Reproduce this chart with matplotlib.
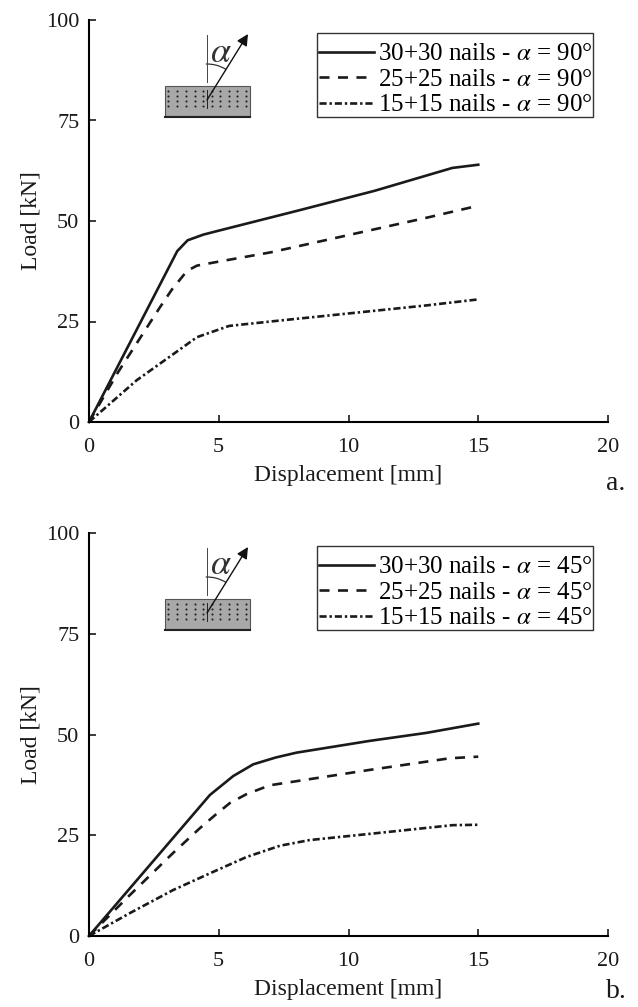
import matplotlib
matplotlib.use('Agg')
import matplotlib.pyplot as plt
from matplotlib.patches import Rectangle, Arc

plt.rcParams['font.family'] = ['Liberation Serif', 'DejaVu Serif']
plt.rcParams['mathtext.fontset'] = 'stix'

W, H = 638, 1007

labels = ['30+30 nails', '25+25 nails', '15+15 nails']
styles = ['-', (0, (3.8, 3.2)), (0, (2.7, 1.1, 0.9, 1.1))]

# panel a
xa_30 = [0, 3.4, 3.8, 4.4, 5, 8, 11, 14, 15]
ya_30 = [0, 42.5, 45.2, 46.6, 47.6, 52.5, 57.5, 63.2, 64]
xa_25 = [0, 1.12, 2.74, 3.2, 3.78, 4.16, 5, 7, 10, 13, 15]
ya_25 = [0, 12.4, 28.6, 33, 37.6, 38.9, 39.9, 42.2, 46.5, 50.8, 53.8]
xa_15 = [0, 1.84, 3.1, 4.16, 5.4, 7, 10, 13, 15]
ya_15 = [0, 10.4, 16.2, 21.1, 23.9, 25, 27, 29, 30.5]

# panel b
xb_30 = [0, 4.66, 5.56, 6.33, 7.2, 8, 10.8, 13, 15]
yb_30 = [0, 35, 39.7, 42.6, 44.3, 45.5, 48.4, 50.4, 52.7]
xb_25 = [0, 1.58, 3.24, 4.28, 4.86, 5.43, 6.07, 6.97, 10.8, 13.9, 15]
yb_25 = [0, 10.2, 20.6, 26.8, 30, 33, 35.2, 37.4, 41.2, 44.1, 44.5]
xb_15 = [0, 1.58, 3.24, 4.78, 6.07, 7.36, 8.5, 11.5, 14, 15]
yb_15 = [0, 5.7, 11.4, 15.9, 19.6, 22.4, 23.8, 25.8, 27.5, 27.6]

xticks = [0, 5, 10, 15, 20]
yticks = [0, 25, 50, 75, 100]


def fx(px):
    return px / W


def fy(py):
    return 1 - py / H


def draw_panel(fig, top, bottom, series, angle, letter, letter_y):
    ax = fig.add_axes([fx(89), fy(bottom), fx(608 - 89), (bottom - top) / H])
    for (x, y), lab, ls in zip(series, labels, styles):
        ax.plot(x, y, color='#1a1a1a', lw=1.9, linestyle=ls,
                label=lab + r' - $\alpha$ = ' + angle + '°', clip_on=False)
    ax.set_xlim(0, 20)
    ax.set_ylim(0, 100)
    ax.set_xticks(xticks)
    ax.set_yticks(yticks)
    ax.spines['top'].set_visible(False)
    ax.spines['right'].set_visible(False)
    ax.spines['left'].set_linewidth(1.5)
    ax.spines['bottom'].set_linewidth(1.5)
    ax.tick_params(direction='in', length=5, width=1.2, labelsize=16, colors='#1a1a1a')
    ax.tick_params(axis='x', pad=11.5)
    ax.tick_params(axis='y', pad=7)
    ax.set_xlabel('Displacement [mm]', fontsize=17, labelpad=6, color='#1a1a1a')
    ax.set_ylabel('Load [kN]', fontsize=17, labelpad=3, color='#1a1a1a')
    ax.legend(loc='upper right', bbox_to_anchor=(0.970, 0.943), fontsize=18, frameon=False,
              handlelength=2.2, handletextpad=0.16, labelspacing=0.12, borderpad=0, borderaxespad=0)
    fig.text(fx(616), fy(letter_y), letter, fontsize=20, ha='center', va='center', color='#1a1a1a')

    # legend box and small sketch of the nailed plate, pixels relative to the panel top
    ov = fig.add_axes([0, 0, 1, 1], facecolor='none')
    ov.set_xlim(0, W)
    ov.set_ylim(H, 0)
    ov.axis('off')
    ov.add_patch(Rectangle((317, top + 13), 276, 84, facecolor='none', edgecolor='#333333', lw=1))
    ov.add_patch(Rectangle((165, top + 66), 85, 30, facecolor='#a8a8a8', edgecolor='#555555', lw=0.8))
    ov.plot([165, 250], [top + 96.5, top + 96.5], color='#222222', lw=1.5)
    dot_x = [168, 177, 186, 195, 203, 212, 220, 229, 237, 246]
    for dx in dot_x:
        for dy in [71, 76, 81, 86]:
            ov.plot(dx, top + dy, 'o', color='#222222', ms=1.5, mew=0)
    ov.plot([207, 207], [top + 15, top + 62], color='#444444', lw=0.7)
    ov.plot([207, 207], [top + 70, top + 88], color='#222222', lw=0.7)
    ov.annotate('', xy=(248, top + 14), xytext=(207, top + 80),
                arrowprops=dict(arrowstyle='-|>', color='#111111', lw=1, mutation_scale=17, shrinkA=0, shrinkB=0))
    ov.add_patch(Arc((207, top + 80), 72, 72, theta1=268, theta2=302, color='#333333', lw=0.9))
    ov.text(221, top + 33, r'$\alpha$', fontsize=26, ha='center', va='center', color='#333333')


fig = plt.figure(figsize=(W / 100, H / 100), dpi=100)
draw_panel(fig, 20, 422, [(xa_30, ya_30), (xa_25, ya_25), (xa_15, ya_15)], '90', 'a.', 483)
draw_panel(fig, 533, 936, [(xb_30, yb_30), (xb_25, yb_25), (xb_15, yb_15)], '45', 'b.', 992)
fig.savefig('out.png', dpi=100)
